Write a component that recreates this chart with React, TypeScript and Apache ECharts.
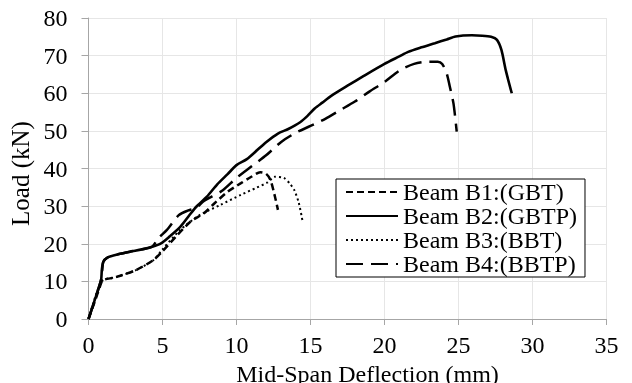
import { useEffect, useRef } from 'react';
import * as echarts from 'echarts';

const FONT = 'Liberation Serif';

const seriesNames = ['Beam B1:(GBT)', 'Beam B2:(GBTP)', 'Beam B3:(BBT)', 'Beam B4:(BBTP)'];

const b1X = [0, 0.5, 0.9, 1.0, 1.9, 3.2, 4.4, 5.0, 6.0, 6.9, 7.8, 8.5, 9.4, 10.3, 11.0, 11.6, 12.0, 12.3, 12.6, 12.8];
const b1Y = [0, 5.5, 10.0, 10.4, 11.2, 13.0, 15.7, 18.0, 22.3, 25.9, 28.1, 30.7, 33.8, 36.1, 37.8, 39.0, 38.6, 36.9, 32.5, 29.0];

const b2X = [0, 0.5, 0.85, 0.9, 1.0, 1.3, 2.0, 2.8, 3.6, 4.3, 4.9, 5.5, 6.2, 6.8, 7.3, 8.0, 8.7, 9.4, 10.0, 10.7, 11.4, 12.0, 12.8, 13.5, 14.3, 14.8, 15.3, 15.8, 16.4, 17.5, 18.6, 20.0, 21.0, 21.6, 22.5, 23.4, 24.2, 24.8, 25.9, 26.6, 27.2, 27.6, 27.9, 28.2, 28.6];
const b2Y = [0, 6, 10.4, 13, 15.2, 16.4, 17.2, 17.9, 18.5, 19.2, 20.1, 22, 24.5, 27.5, 29.9, 32.5, 35.8, 38.5, 40.9, 42.5, 44.9, 47, 49.3, 50.5, 52.3, 54, 56, 57.5, 59.3, 62, 64.6, 67.8, 69.8, 71, 72.2, 73.3, 74.3, 75.1, 75.4, 75.3, 75.0, 74.2, 71.5, 66, 60];

const b3X = [0, 0.9, 1.9, 3.2, 4.4, 5.0, 6.2, 7.5, 8.9, 10.3, 11.3, 12.1, 12.6, 13.2, 13.6, 13.9, 14.2, 14.45];
const b3Y = [0, 10, 11.2, 13, 15.7, 18.5, 23.7, 27.6, 30.3, 33, 34.8, 36.3, 37.8, 37.5, 36, 34.3, 31, 26.3];

const b4X = [0, 0.85, 1.0, 1.3, 2.0, 2.8, 3.6, 4.3, 4.7, 5.3, 6.1, 6.7, 7.3, 7.8, 9.0, 10.0, 11.0, 12.0, 13.0, 14.0, 15.0, 16.0, 17.0, 18.0, 19.0, 20.0, 21.0, 22.0, 23.0, 23.6, 23.9, 24.2, 24.4, 24.66, 24.88];
const b4Y = [0, 10.4, 15.2, 16.4, 17.2, 17.9, 18.5, 19.2, 21.4, 23.7, 27.6, 28.8, 29.6, 31.4, 34.0, 37.5, 40.5, 43.5, 47.0, 49.5, 51.3, 53.2, 55.5, 57.8, 60.5, 63.0, 66.0, 67.8, 68.4, 68.4, 67.8, 65.3, 62.0, 57.3, 49.8];

const xTicks = { min: 0, max: 35, interval: 5 };
const yTicks = { min: 0, max: 80, interval: 10 };

const pairs = (xs: number[], ys: number[]) => xs.map((x, i) => [x, ys[i]]);

const dashPatterns: any[] = [[7, 4], 'solid', [2, 3], [17, 8]];
const widths = [2.5, 2.6, 2, 2.5];
const allData = [pairs(b1X, b1Y), pairs(b2X, b2Y), pairs(b3X, b3Y), pairs(b4X, b4Y)];

export default function App() {
  const ref = useRef<HTMLDivElement>(null);
  useEffect(() => {
    const chart = echarts.init(ref.current!, null, { renderer: 'svg' });
    chart.setOption({
      animation: false,
      grid: { left: 88.5, right: 25.5, top: 18, bottom: 64, containLabel: false, outerBoundsMode: 'none' },
      xAxis: {
        type: 'value',
        min: xTicks.min,
        max: xTicks.max,
        interval: xTicks.interval,
        name: 'Mid-Span Deflection (mm)',
        nameLocation: 'middle',
        nameGap: 35,
        nameTextStyle: { fontFamily: FONT, fontSize: 24, color: '#000', padding: [0, 0, 0, 40] },
        axisLine: { show: true, lineStyle: { color: '#a6a6a6', width: 1 } },
        axisTick: { show: true, length: 6, lineStyle: { color: '#a6a6a6' } },
        axisLabel: { fontFamily: FONT, fontSize: 24, lineHeight: 20, color: '#000', margin: 16 },
        splitLine: { show: true, lineStyle: { color: '#e6e6e6', width: 1 } },
      },
      yAxis: {
        type: 'value',
        min: yTicks.min,
        max: yTicks.max,
        interval: yTicks.interval,
        name: 'Load (kN)',
        nameLocation: 'middle',
        nameGap: 50,
        nameTextStyle: { fontFamily: FONT, fontSize: 25, color: '#000', padding: [0, 10, 0, 0] },
        axisLine: { show: true, lineStyle: { color: '#a6a6a6', width: 1 } },
        axisTick: { show: true, length: 7, lineStyle: { color: '#a6a6a6' } },
        axisLabel: { fontFamily: FONT, fontSize: 24, color: '#000', margin: 21 },
        splitLine: { show: true, lineStyle: { color: '#e6e6e6', width: 1 } },
      },
      legend: {
        orient: 'vertical',
        left: 336,
        top: 179,
        padding: [1, 8, 1, 9],
        itemGap: 0,
        itemWidth: 52,
        itemHeight: 14,
        borderColor: '#000',
        borderWidth: 1,
        backgroundColor: '#fff',
        itemStyle: { opacity: 0 },
        textStyle: { fontFamily: FONT, fontSize: 24, color: '#000' },
        data: seriesNames,
      },
      series: seriesNames.map((name, i) => ({
        name,
        type: 'line',
        data: allData[i],
        symbol: 'none',
        smooth: 0.25,
        z: i === 1 ? 3 : 2,
        lineStyle: { color: '#000', width: widths[i], type: dashPatterns[i] },
        itemStyle: { color: '#000' },
      })),
    });
    return () => chart.dispose();
  }, []);
  return <div ref={ref} style={{ position: 'fixed', left: 0, top: 0, width: 632, height: 383 }} />;
}
